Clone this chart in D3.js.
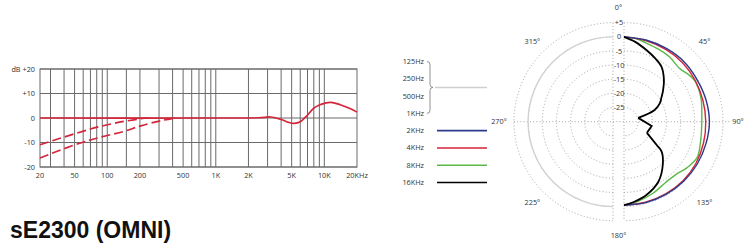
<!DOCTYPE html>
<html lang="en">
<head>
<meta charset="utf-8">
<title>sE2300 (OMNI)</title>
<script src="https://cdn.jsdelivr.net/npm/d3@7"></script>
<style>
  body { margin: 0; background: #fff; }
  text { font-family: "Open Sans", "Liberation Sans", sans-serif; font-size: 7.3px; fill: #333; }
</style>
</head>
<body>
<script>

// frequency response (left)
const gridFreqs = [30, 40, 50, 60, 70, 80, 90, 100, 150, 200, 300, 400, 500, 600, 700, 800, 900, 1000,
                   2000, 3000, 4000, 5000, 6000, 7000, 8000, 9000, 10000];
const freqTicks = [20, 50, 100, 200, 500, 1000, 2000, 5000, 10000, 20000];
const freqTickLabels = ["20", "50", "100", "200", "500", "1K", "2K", "5K", "10K", "20KHz"];
const dbTicks = [20, 10, 0, -10, -20];
const dbTickLabels = ["dB +20", "+10", "0", "-10", "-20"];

const respFreq = [20, 1000, 2500, 3200, 4000, 4700, 5300, 6000, 7000, 8000, 9000, 10000, 11500, 14000, 17000, 20000];
const respDb   = [0, 0, 0.1, 0.4, -0.6, -1.8, -2.2, -1.5, 1.2, 4.0, 5.3, 6.0, 6.4, 5.4, 4.0, 2.4];
const cut1Freq = [20, 53, 87, 142, 204, 240];
const cut1Db   = [-10.9, -6.1, -3.4, -1.4, -0.3, 0];
const cut2Freq = [20, 53, 87, 142, 204, 311, 420];
const cut2Db   = [-16.3, -10.6, -7.8, -5.5, -3.2, -1.1, 0];

// polar pattern (right)
const lowBandLabels = ["125Hz", "250Hz", "500Hz", "1KHz"];
const bandLabels = ["2KHz", "4KHz", "8KHz", "16KHz"];
const bandColors = ["#2b3a8c", "#d4253b", "#5cb947", "#000000"];
const ringDb = [5, 0, -5, -10, -15, -20, -25];
const ringLabels = ["+5", "0", "-5", "-10", "-15", "-20", "-25"];
const angleTicks = [0, 45, 90, 135, 180, 225, 270, 315];

const angles2k = [0, 15, 30, 45, 60, 75, 90, 105, 120, 135, 150, 165, 180];
const db2k     = [0, -0.1, -0.1, 0, -0.2, 0, 0.2, 0, -0.1, -0.2, -0.3, -0.4, -0.5];
const angles4k = [0, 15, 30, 45, 60, 75, 90, 105, 120, 135, 150, 165, 180];
const db4k     = [0, -0.3, -0.5, -0.6, -0.9, -1.1, -1.1, -0.9, -0.6, -0.5, -0.5, -0.5, -0.5];
const angles8k = [0, 8, 16, 25, 35, 46, 55, 60, 66, 74, 90, 105, 116, 126, 135, 145, 158, 170, 180];
const db8k     = [0, -0.3, -1.1, -1.6, -2.0, -2.8, -1.6, -1.1, -1.2, -1.6, -2.5, -2.0, -1.2, -2.4, -3.8, -4.0, -2.7, -1.4, -0.5];
const angles16k = [0, 8, 17.6, 26, 34.4, 43.8, 51, 57, 63, 69, 75, 99, 116, 125.5, 128.5, 138, 150, 163, 173, 180];
const db16k     = [0, -1.5, -3.5, -5, -6.5, -9.6, -12.2, -14.2, -15.8, -18.4, -24.8, -20.1, -21, -15.8, -13, -9.5, -5.6, -2.9, -1.4, -0.5];
const cusps16k = [75, 116];

const w = 750, h = 244;
const svg = d3.select("body").append("svg").attr("width", w).attr("height", h);

// ---------- frequency response ----------
const x = d3.scaleLog().domain([20, 30, 20000]).range([40, 50.5, 357]);
const y = d3.scaleLinear().domain([-20, 20]).range([167, 69]);

const grid = svg.append("g").attr("stroke", "#6a6a6a").attr("stroke-width", 1);
grid.selectAll(".v").data(gridFreqs).join("line")
  .attr("x1", d => x(d)).attr("x2", d => x(d))
  .attr("y1", y(20)).attr("y2", y(-20));
grid.selectAll(".h").data(dbTicks).join("line")
  .attr("x1", x(20)).attr("x2", x(20000))
  .attr("y1", d => y(d)).attr("y2", d => y(d));
grid.append("rect")
  .attr("x", x(20)).attr("y", y(20))
  .attr("width", x(20000) - x(20)).attr("height", y(-20) - y(20))
  .attr("fill", "none");

svg.append("g").selectAll("text").data(dbTicks).join("text")
  .attr("x", 35).attr("y", d => y(d)).attr("dy", "0.35em")
  .attr("text-anchor", "end")
  .text((d, i) => dbTickLabels[i]);

svg.append("g").selectAll("text").data(freqTicks).join("text")
  .attr("x", d => x(d)).attr("y", 178)
  .attr("text-anchor", "middle")
  .text((d, i) => freqTickLabels[i]);

const respLine = d3.line().x(d => x(d[0])).y(d => y(d[1])).curve(d3.curveCatmullRom.alpha(0.5));
const red = "#d4253b";

svg.append("path").datum(d3.zip(cut1Freq, cut1Db))
  .attr("d", respLine).attr("fill", "none").attr("stroke", red)
  .attr("stroke-width", 1.7).attr("stroke-dasharray", "9,4");
svg.append("path").datum(d3.zip(cut2Freq, cut2Db))
  .attr("d", respLine).attr("fill", "none").attr("stroke", red)
  .attr("stroke-width", 1.7).attr("stroke-dasharray", "9,4");
svg.append("path").datum(d3.zip(respFreq, respDb))
  .attr("d", respLine).attr("fill", "none").attr("stroke", red)
  .attr("stroke-width", 1.7);

// ---------- legend ----------
const legY = d3.scalePoint().domain(d3.range(8)).range([61.5, 182.5]);
svg.append("g").selectAll("text").data(lowBandLabels.concat(bandLabels)).join("text")
  .attr("x", 424).attr("y", (d, i) => legY(i)).attr("dy", "0.35em")
  .attr("text-anchor", "end")
  .text(d => d);

// brace around the low bands
const bTop = legY(0), bBot = legY(3), bMid = (bTop + bBot) / 2;
svg.append("path")
  .attr("d", `M427,${bTop} q3,0 3,3 V${bMid - 3} q0,3 3,3 q-3,0 -3,3 V${bBot - 3} q0,3 -3,3`)
  .attr("fill", "none").attr("stroke", "#777").attr("stroke-width", 0.8);
svg.append("line")
  .attr("x1", 435).attr("x2", 487).attr("y1", bMid).attr("y2", bMid)
  .attr("stroke", "#cfcfcf").attr("stroke-width", 1.4);

svg.append("g").selectAll("line").data(bandColors).join("line")
  .attr("x1", 437).attr("x2", 487)
  .attr("y1", (d, i) => legY(i + 4)).attr("y2", (d, i) => legY(i + 4))
  .attr("stroke", d => d).attr("stroke-width", 1.6);

// ---------- polar ----------
const cy = 121.7, cxL = 613, cxR = 624;
const r = d3.scaleLinear().domain([-30, 5]).range([0, 99]);

const dots = svg.append("g").attr("fill", "none").attr("stroke", "#9a9a9a")
  .attr("stroke-width", 0.9).attr("stroke-dasharray", "1,2.2");
ringDb.forEach(db => {
  const pR = d3.path();
  pR.arc(cxR, cy, r(db), -Math.PI / 2, Math.PI / 2);
  dots.append("path").attr("d", pR.toString());
  const pL = d3.path();
  pL.arc(cxL, cy, r(db), Math.PI / 2, Math.PI * 1.5);
  dots.append("path").attr("d", pL.toString());
});
dots.append("line").attr("x1", cxL - r(5)).attr("x2", cxR + r(5) + 8).attr("y1", cy).attr("y2", cy);
[cxL, cxR].forEach(cx => {
  dots.append("line").attr("x1", cx).attr("x2", cx).attr("y1", cy - r(5)).attr("y2", cy + r(5));
});

// low bands: 0 dB on the left half
const pLow = d3.path();
pLow.arc(cxL, cy, r(0), Math.PI / 2, Math.PI * 1.5);
svg.append("path").attr("d", pLow.toString())
  .attr("fill", "none").attr("stroke", "#d2d2d2").attr("stroke-width", 1.4);

svg.append("g").selectAll("text").data(ringDb).join("text")
  .attr("x", (cxL + cxR) / 2 + 0.5).attr("y", d => cy - r(d)).attr("dy", "0.35em")
  .attr("text-anchor", "middle")
  .text((d, i) => ringLabels[i]);

svg.append("g").selectAll("text").data(angleTicks).join("text")
  .attr("x", d => {
    const cx = d === 0 || d === 180 ? (cxL + cxR) / 2 : (d < 180 ? cxR : cxL);
    return cx + 114 * Math.sin(d * Math.PI / 180);
  })
  .attr("y", d => cy - 114 * Math.cos(d * Math.PI / 180))
  .attr("dy", "0.35em").attr("text-anchor", "middle")
  .text(d => d + "°");

const radial = d3.lineRadial()
  .angle(d => d[0] * Math.PI / 180)
  .radius(d => r(d[1]))
  .curve(d3.curveCatmullRom.alpha(0.5));
const polar = svg.append("g").attr("transform", `translate(${cxR},${cy})`)
  .attr("fill", "none");

const bands = [d3.zip(angles2k, db2k), d3.zip(angles4k, db4k), d3.zip(angles8k, db8k)];
// draw green, red, blue so blue sits on top at the outside
[2, 1, 0].forEach(i => {
  polar.append("path").datum(bands[i]).attr("d", radial)
    .attr("stroke", bandColors[i]).attr("stroke-width", 1.4);
});

// 16KHz: smooth lobes joined by sharp cusps
const pts16 = d3.zip(angles16k, db16k);
const seg1 = pts16.filter(d => d[0] <= cusps16k[0]);
const seg2 = pts16.filter(d => d[0] >= cusps16k[0] && d[0] <= cusps16k[1]);
const seg3 = pts16.filter(d => d[0] >= cusps16k[1]);
polar.append("path").datum(seg1).attr("d", radial).attr("stroke", bandColors[3]).attr("stroke-width", 1.8);
polar.append("path").datum(seg2).attr("d", radial.curve(d3.curveLinear)).attr("stroke", bandColors[3]).attr("stroke-width", 1.8);
polar.append("path").datum(seg3).attr("d", radial.curve(d3.curveCatmullRom.alpha(0.5))).attr("stroke", bandColors[3]).attr("stroke-width", 1.8);

// ---------- title ----------
svg.append("text")
  .attr("x", 10).attr("y", 238)
  .style("font-family", "'Liberation Sans', Arial, sans-serif")
  .style("font-size", "23px").style("font-weight", "bold").style("fill", "#111")
  .text("sE2300 (OMNI)");

</script>
</body>
</html>
